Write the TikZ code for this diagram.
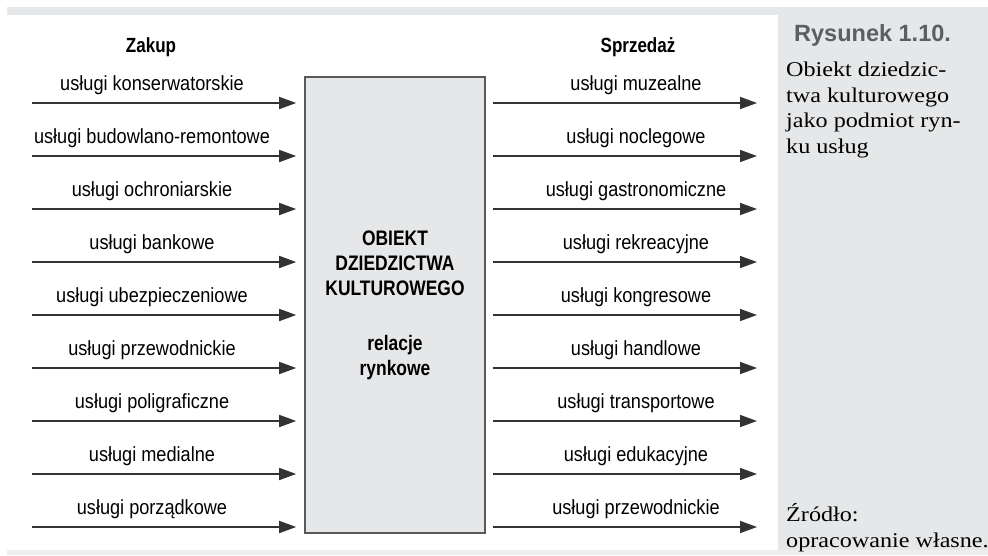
\documentclass[tikz,border=0pt]{standalone}
\usepackage{fontspec}
\setmainfont{Liberation Serif}
\newfontfamily\lblfont[FakeStretch=0.885]{Liberation Sans}
\newfontfamily\headfont[FakeStretch=0.83]{Liberation Sans}
\newfontfamily\capfont{Liberation Sans}
\newfontfamily\descfont[FakeStretch=1.15]{Liberation Serif}
\usepackage{tikz}
\usetikzlibrary{calc}
\usetikzlibrary{arrows.meta,positioning}
\definecolor{panelgray}{HTML}{E6E7E8}
\definecolor{stripgray}{HTML}{EEEEEF}
\definecolor{framegray}{HTML}{58595B}
\definecolor{capgray}{HTML}{5D5E60}
\tikzstyle{objbox} = [rectangle, draw=framegray, line width=1.6pt, fill=panelgray, minimum width=180pt, minimum height=456pt, align=center, font=\headfont\bfseries\fontsize{21}{25}\selectfont]
\tikzstyle{lbl} = [anchor=base, inner sep=0pt, font=\lblfont\fontsize{20.5}{24}\selectfont]
\tikzstyle{head} = [anchor=base, inner sep=0pt, font=\headfont\bfseries\fontsize{20.5}{24}\selectfont]
\tikzstyle{side} = [anchor=base west, inner sep=0pt, align=left, font=\descfont\fontsize{21}{25.5}\selectfont]
\tikzstyle{line} = [draw, line width=1.6pt, color=black!80, -{Triangle[length=17pt,width=12pt]}]

\begin{document}
\begin{tikzpicture}[x=1pt,y=-1pt]
  \useasboundingbox (0,0) rectangle (988,555);
  % page frame
  \fill [panelgray] (7,7) rectangle (778,15);
  \fill [panelgray] (778,7) rectangle (988,551);
  \fill [stripgray] (7,550) rectangle (988,555);

  \node (obj) [objbox] at (395,305) {OBIEKT\\DZIEDZICTWA\\KULTUROWEGO\\[30pt]relacje\\rynkowe};
  \node (buy) [head] at (151,52) {Zakup};
  \node (sell) [head] at (638,52) {Sprzedaż};

  \foreach \txt [count=\i] in {usługi konserwatorskie, usługi budowlano-remontowe, usługi ochroniarskie, usługi bankowe, usługi ubezpieczeniowe, usługi przewodnickie, usługi poligraficzne, usługi medialne, usługi porządkowe} {
    \node (in\i) [lbl] at (152,37+53*\i) {\txt};
    \coordinate (ins\i) at (32,50+53*\i);
    \path [line, shorten >=8pt] (ins\i) -- (ins\i -| obj.west);
  }
  \foreach \txt [count=\i] in {usługi muzealne, usługi noclegowe, usługi gastronomiczne, usługi rekreacyjne, usługi kongresowe, usługi handlowe, usługi transportowe, usługi edukacyjne, usługi przewodnickie} {
    \node (out\i) [lbl] at (636,37+53*\i) {\txt};
    \coordinate (oute\i) at (757,50+53*\i);
    \path [line, shorten <=7pt] (oute\i -| obj.east) -- (oute\i);
  }

  % caption column (base = last line)
  \node (fig) [anchor=base west, inner sep=0pt, font=\capfont\bfseries\fontsize{23.5}{28}\selectfont, text=capgray] at (794,41) {Rysunek 1.10.};
  \node (title) [side] at (786,153) {Obiekt dziedzic-\\twa kulturowego\\jako podmiot ryn-\\ku usług};
  \node (src) [side] at (786,547) {Źródło:\\opracowanie własne.};
\end{tikzpicture}
\end{document}
